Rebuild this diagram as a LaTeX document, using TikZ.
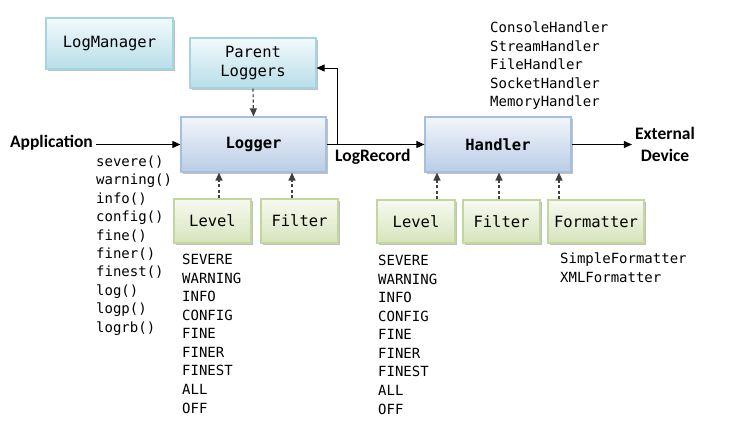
\documentclass[tikz,border=0pt]{standalone}
\usepackage{fontspec}
\setmainfont{Carlito}
\newfontfamily\monof{DejaVu Sans Mono}
\usetikzlibrary{shadows,arrows.meta}
\definecolor{cyanbot}{HTML}{B7DEE8}
\definecolor{cyantop}{HTML}{F2FAFC}
\definecolor{cyanbd}{HTML}{A5D5E2}
\definecolor{bluebot}{HTML}{B9CDE5}
\definecolor{bluetop}{HTML}{F2F5FB}
\definecolor{bluebd}{HTML}{A7BFDE}
\definecolor{grnbot}{HTML}{D7E4BD}
\definecolor{grntop}{HTML}{F7F9F0}
\definecolor{grnbd}{HTML}{C3D69B}
\tikzset{
  boxbase/.style={draw, line width=1.2pt, inner sep=0pt, align=center,
    font=\monof\fontsize{15.5}{19}\selectfont,
    drop shadow={shadow xshift=1.5pt, shadow yshift=-1.8pt, fill=black!35, opacity=0.7}},
  cyanbox/.style={boxbase, draw=cyanbd, top color=cyantop, bottom color=cyanbot},
  bluebox/.style={boxbase, draw=bluebd, top color=bluetop, bottom color=bluebot,
    font=\monof\bfseries\fontsize{15.5}{19}\selectfont},
  grnbox/.style={boxbase, draw=grnbd, top color=grntop, bottom color=grnbot},
  arr/.style={line width=0.9pt, -{Triangle[length=8pt,width=7pt]}},
  dasharr/.style={line width=1.2pt, draw=black!75, dash pattern=on 3pt off 2.5pt,
    -{Triangle[length=8pt,width=7pt]}},
  listtxt/.style={anchor=base west, inner sep=0pt, font=\monof\fontsize{14}{17}\selectfont},
  lbl/.style={inner sep=0pt, font=\bfseries\fontsize{17.5}{22}\selectfont, align=center}
}
\begin{document}
\begin{tikzpicture}[x=1pt,y=-1pt]
\useasboundingbox (0,0) rectangle (736,427);
% boxes
\node[cyanbox, minimum width=127pt, minimum height=51pt] (lm) at (109.5,43.5) {LogManager};
\node[cyanbox, minimum width=126pt, minimum height=50pt] (pl) at (253,63) {Parent\\Loggers};
\node[bluebox, minimum width=145pt, minimum height=55pt] (logger) at (253.5,144.5) {Logger};
\node[bluebox, minimum width=146pt, minimum height=55pt] (handler) at (498,144.5) {Handler};
\node[grnbox, minimum width=77pt, minimum height=44pt] (lv1) at (212.5,221) {Level};
\node[grnbox, minimum width=77pt, minimum height=44pt] (ft1) at (299.5,221) {Filter};
\node[grnbox, minimum width=78pt, minimum height=43pt] (lv2) at (416,221.5) {Level};
\node[grnbox, minimum width=77pt, minimum height=43pt] (ft2) at (501.5,221.5) {Filter};
\node[grnbox, minimum width=96pt, minimum height=43pt] (fm) at (596,221.5) {Formatter};
% labels
\node[lbl, anchor=east] (app) at (93,143) {Application};
\node[lbl, anchor=north west] (lr) at (335,149.5) {LogRecord};
\node[lbl] (ext) at (665,144) {External\\Device};
% connectors
\draw[arr] ([xshift=3pt]app.east |- logger.west) -- (logger.west);
\draw[arr] (logger.east) -- (handler.west);
\coordinate (br) at (337,144.5);
\draw[arr] (br) |- ([yshift=-5pt]pl.east);
\draw[arr] (handler.east) -- ([xshift=-3pt]ext.west |- handler.east);
\draw[dasharr] (pl.south) -- (logger.north);
\draw[dasharr] ([xshift=6.5pt]lv1.north) -- ([xshift=6.5pt]lv1.north |- logger.south);
\draw[dasharr] ([xshift=-7.5pt]ft1.north) -- ([xshift=-7.5pt]ft1.north |- logger.south);
\draw[dasharr] ([xshift=21pt]lv2.north) -- ([xshift=21pt]lv2.north |- handler.south);
\draw[dasharr] ([xshift=-2.5pt]ft2.north) -- ([xshift=-2.5pt]ft2.north |- handler.south);
\draw[dasharr] ([xshift=-37pt]fm.north) -- ([xshift=-37pt]fm.north |- handler.south);
% lists
\foreach \t [count=\i] in {severe(),warning(),info(),config(),fine(),finer(),finest(),log(),logp(),logrb()}
  \node[listtxt] (meth\i) at (96,{166.5+18.4*(\i-1)}) {\t};
\foreach \t [count=\i] in {SEVERE,WARNING,INFO,CONFIG,FINE,FINER,FINEST,ALL,OFF}
  \node[listtxt] (lva\i) at (182,{265+18.5*(\i-1)}) {\t};
\foreach \t [count=\i] in {SEVERE,WARNING,INFO,CONFIG,FINE,FINER,FINEST,ALL,OFF}
  \node[listtxt] (lvb\i) at (378,{266+18.5*(\i-1)}) {\t};
\foreach \t [count=\i] in {ConsoleHandler,StreamHandler,FileHandler,SocketHandler,MemoryHandler}
  \node[listtxt] (hd\i) at (490,{33+18.5*(\i-1)}) {\t};
\foreach \t [count=\i] in {SimpleFormatter,XMLFormatter}
  \node[listtxt] (fmt\i) at (560,{264+18.7*(\i-1)}) {\t};
\end{tikzpicture}
\end{document}
